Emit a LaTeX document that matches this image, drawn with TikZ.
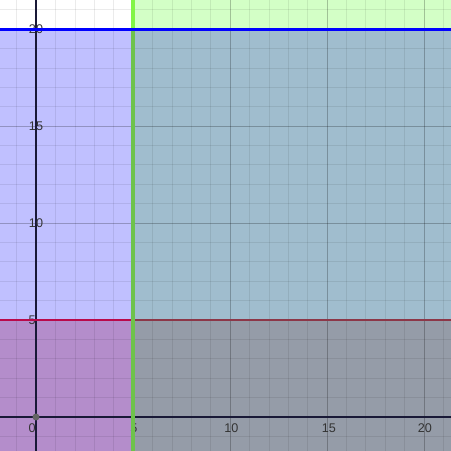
\documentclass[tikz,border=0pt]{standalone}
\usepackage{fontspec}
\setmainfont{Liberation Sans}
\definecolor{cW}{RGB}{255,255,255}
\definecolor{cG}{RGB}{211,255,198}
\definecolor{cB}{RGB}{192,192,255}
\definecolor{cBG}{RGB}{160,189,206}
\definecolor{cR}{RGB}{180,141,203}
\definecolor{cRG}{RGB}{149,156,168}
\definecolor{lnRed}{RGB}{185,10,75}
\definecolor{lnRedD}{RGB}{140,55,72}
\definecolor{lnGreen}{RGB}{130,245,70}
\definecolor{lnGreenD}{RGB}{110,195,75}
\definecolor{lnBlue}{RGB}{0,0,255}
\definecolor{dotc}{RGB}{100,100,100}
\definecolor{axc}{RGB}{25,25,55}
\tikzset{
  minorgrid/.style={draw=black, draw opacity=0.08, line width=0.6pt},
  majorgrid/.style={draw=black, draw opacity=0.24, line width=0.8pt},
  axisline/.style={draw=axc, line width=1.6pt},
  ticklabel/.style={font=\fontsize{12.6}{14}\selectfont, text=black!80, inner sep=0pt},
}
\begin{document}
\begin{tikzpicture}[x=19.4pt,y=19.4pt]
\useasboundingbox (-1.856,-1.753) rectangle (21.392,21.495);
% region fills
\fill[cW] (-1.856,20) rectangle (5,21.495);
\fill[cG] (5,20) rectangle (21.392,21.495);
\fill[cB] (-1.856,5) rectangle (5,20);
\fill[cBG] (5,5) rectangle (21.392,20);
\fill[cR] (-1.856,-1.753) rectangle (5,5);
\fill[cRG] (5,-1.753) rectangle (21.392,5);
% grid
\foreach \i in {-1,1,2,3,4,6,7,8,9,11,12,13,14,16,17,18,19,21}{
  \draw[minorgrid] (\i,-1.753) -- (\i,21.495);
  \draw[minorgrid] (-1.856,\i) -- (21.392,\i);
}
\foreach \i in {5,10,15,20}{
  \draw[majorgrid] (\i,-1.753) -- (\i,21.495);
  \draw[majorgrid] (-1.856,\i) -- (21.392,\i);
}
% axes
\draw[axisline] (0,-1.753) -- (0,21.495);
\draw[axisline] (-1.856,0) -- (21.392,0);
% labels
\node[ticklabel] (x0) at (-0.2,-0.58) {0};
\node[ticklabel] (x5) at (5.04,-0.58) {5};
\node[ticklabel] (x10) at (10.07,-0.58) {10};
\node[ticklabel] (x15) at (15.1,-0.58) {15};
\node[ticklabel] (x20) at (20.05,-0.58) {20};
\node[ticklabel] (y5) at (-0.2,5) {5};
\node[ticklabel] (y10) at (0,10) {10};
\node[ticklabel] (y15) at (0,15) {15};
\node[ticklabel] (y20) at (0,20) {20};
% boundary lines
\draw[lnRed, line width=2.8pt] (-1.856,5) -- (5,5);
\draw[lnRedD, line width=2.8pt] (5,5) -- (21.392,5);
\draw[lnGreenD, line width=3.2pt] (5,-1.753) -- (5,20);
\draw[lnGreen, line width=3.2pt] (5,20) -- (5,21.495);
\draw[lnBlue, line width=3pt] (-1.856,20) -- (21.392,20);
% origin dot
\fill[dotc] (0,0) circle (0.18);
\end{tikzpicture}
\end{document}
